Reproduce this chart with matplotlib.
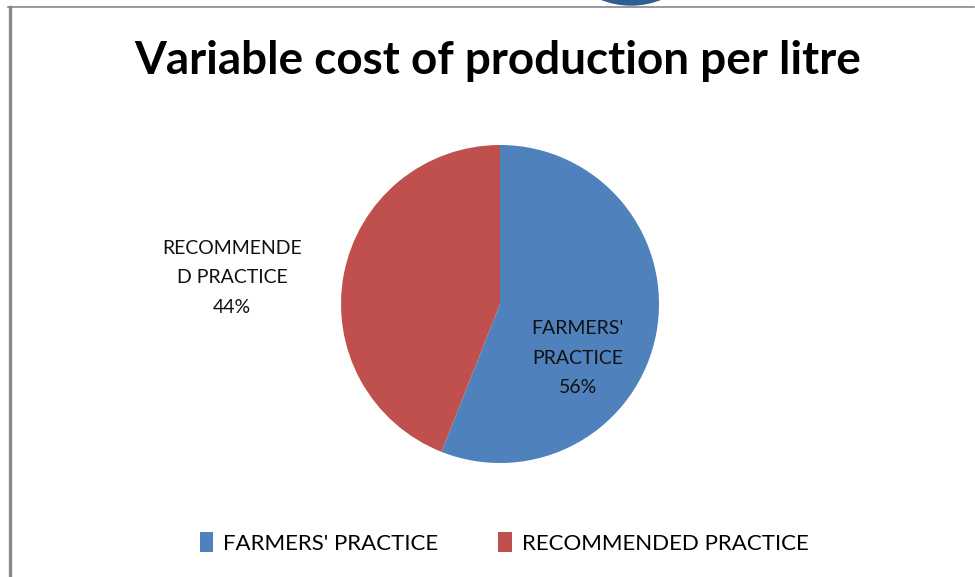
import matplotlib.pyplot as plt
from matplotlib.lines import Line2D
from matplotlib.patches import Ellipse

plt.rcParams['font.family'] = ['Lato', 'DejaVu Sans']

# data
categories = ["FARMERS' PRACTICE", "RECOMMENDED PRACTICE"]
shares = [56, 44]
slice_labels = ["FARMERS'\nPRACTICE", "RECOMMENDE\nD PRACTICE"]
colors = ['#4F81BD', '#C0504D']

fig = plt.figure(figsize=(9.75, 5.77), dpi=100)
fig.patch.set_facecolor('white')

# chart frame (left and top edges) and the blue knob on top
fig.add_artist(Line2D([9.5 / 975, 9.5 / 975], [0, 1 - 7 / 577],
                      transform=fig.transFigure, color='#888888', lw=2.4))
fig.add_artist(Line2D([8 / 975, 974 / 975], [1 - 7 / 577, 1 - 7 / 577],
                      transform=fig.transFigure, color='#888888', lw=1.2))
fig.add_artist(Ellipse((631 / 975, 1 + 79 / 577), 164 / 975, 168 / 577,
                       transform=fig.transFigure, color='#2E5E92', zorder=5))

ax = fig.add_axes([341 / 975, 114 / 577, 318 / 975, 318 / 577])
wedges, _ = ax.pie(shares, colors=colors, startangle=90, counterclock=False,
                   radius=1, wedgeprops=dict(linewidth=0))
ax.set_xlim(-1, 1)
ax.set_ylim(-1, 1)
ax.set_aspect('equal')
ax.axis('off')

# data labels
label_pos = [(0.49, -0.34), (-1.686, 0.165)]
for (x, y), lab, v in zip(label_pos, slice_labels, shares):
    ax.text(x, y, f"{lab}\n{v}%", ha='center', va='center', fontsize=14,
            color='#111111', linespacing=1.9, clip_on=False)

fig.text(0.51, 1 - 61 / 577, "Variable cost of production per litre",
         ha='center', va='center', fontsize=33, fontweight='bold', color='black')

fig.legend(wedges, categories, loc='center', bbox_to_anchor=(0.517, 1 - 543 / 577),
           ncol=2, frameon=False, fontsize=16, handlelength=0.6,
           handleheight=1.0, handletextpad=0.45, columnspacing=2.7)

fig.savefig('out.png', dpi=100)
